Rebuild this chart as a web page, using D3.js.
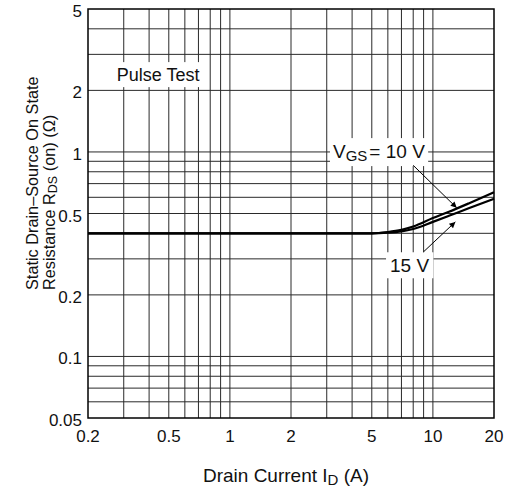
<!DOCTYPE html>
<html><head><meta charset="utf-8">
<script src="https://cdn.jsdelivr.net/npm/d3@7"></script>
<style>
html,body{margin:0;padding:0;background:#fff;}
svg text{font-family:"Liberation Sans",Arial,sans-serif;fill:#111;}
</style></head>
<body>
<svg id="chart" width="509" height="491"></svg>
<script>
// ---- data ----
const xTickLabels = [0.2, 0.5, 1, 2, 5, 10, 20];
const yTickLabels = [0.05, 0.1, 0.2, 0.5, 1, 2, 5];
const xGrid = [0.3,0.4,0.5,0.6,0.7,0.8,0.9,1,2,3,4,5,6,7,8,9,10];
const yGrid = [0.06,0.07,0.08,0.09,0.1,0.2,0.3,0.4,0.5,0.6,0.7,0.8,0.9,1,2,3,4];
const currentA = [0.2, 1, 5, 6, 7, 8, 10, 12, 15, 20];
const rds10V  = [0.4, 0.4, 0.4, 0.406, 0.416, 0.432, 0.475, 0.51, 0.56, 0.635];
const rds15V  = [0.4, 0.4, 0.4, 0.403, 0.409, 0.42, 0.455, 0.487, 0.53, 0.59];
// annotation anchors in data units [x, y]
const pulseLabel = {x: 0.277, y: 2.22};
const label10 = {x: 3.22, y: 0.933};
const label15 = {x: 6.15, y: 0.258};
const arrow10 = [[8.0, 0.86], [13.1, 0.533]];
const arrow15 = [[9.0, 0.325], [12.9, 0.455]];

const W = 509, H = 491;
const m = {left: 88, top: 9, right: 15, bottom: 73};
const svg = d3.select("#chart");
const x = d3.scaleLog().domain([0.2, 20]).range([m.left, W - m.right]);
const y = d3.scaleLog().domain([0.05, 5]).range([H - m.bottom, m.top]);

const g = svg.append("g");
// grid
g.selectAll(".vg").data(xGrid).join("line")
  .attr("x1", d => x(d)).attr("x2", d => x(d))
  .attr("y1", y(0.05)).attr("y2", y(5))
  .attr("stroke", "#2a2a2a").attr("stroke-width", 1);
g.selectAll(".hg").data(yGrid).join("line")
  .attr("y1", d => y(d)).attr("y2", d => y(d))
  .attr("x1", x(0.2)).attr("x2", x(20))
  .attr("stroke", "#2a2a2a").attr("stroke-width", 1);

// labels with white boxes
function boxedLabel(pos, size, padX, build) {
  const t = g.append("text").attr("x", x(pos.x)).attr("y", y(pos.y)).attr("font-size", size);
  build(t);
  const b = t.node().getBBox();
  g.insert("rect", () => t.node()).attr("x", b.x - padX).attr("y", b.y - 3)
    .attr("width", b.width + 2 * padX).attr("height", b.height + 5).attr("fill", "#fff");
}
boxedLabel(pulseLabel, 18, 4, t => t.text("Pulse Test"));

// curves
const line = d3.line().x(d => x(d[0])).y(d => y(d[1])).curve(d3.curveMonotoneX);
[rds10V, rds15V].forEach(s => {
  g.append("path").datum(currentA.map((c, i) => [c, s[i]]))
    .attr("d", line).attr("fill", "none").attr("stroke", "#000").attr("stroke-width", 2.2);
});

// border
g.append("rect").attr("x", x(0.2)).attr("y", y(5))
  .attr("width", x(20) - x(0.2)).attr("height", y(0.05) - y(5))
  .attr("fill", "none").attr("stroke", "#000").attr("stroke-width", 1.5);

// arrow marker
svg.append("defs").append("marker").attr("id", "ah")
  .attr("viewBox", "0 0 10 10").attr("refX", 10).attr("refY", 5)
  .attr("markerWidth", 9).attr("markerHeight", 6).attr("markerUnits", "userSpaceOnUse")
  .attr("orient", "auto")
  .append("path").attr("d", "M0,0 L10,5 L0,10 Z").attr("fill", "#000");

boxedLabel(label10, 19, 3, t => {
  t.append("tspan").text("V");
  t.append("tspan").attr("font-size", 15).attr("dy", 3).text("GS");
  t.append("tspan").attr("dy", -3).attr("dx", 2).text("= 10 V");
});
boxedLabel(label15, 19, 4, t => t.text("15 V"));

[arrow10, arrow15].forEach(a => {
  g.append("line").attr("x1", x(a[0][0])).attr("y1", y(a[0][1]))
    .attr("x2", x(a[1][0])).attr("y2", y(a[1][1]))
    .attr("stroke", "#000").attr("stroke-width", 1).attr("marker-end", "url(#ah)");
});

// tick labels
const fmt = d => String(d);
g.selectAll(".yl").data(yTickLabels).join("text")
  .attr("x", x(0.2) - 6).attr("y", d => y(d) + 8)
  .attr("text-anchor", "end").attr("font-size", 17).text(fmt);
g.selectAll(".xl").data(xTickLabels).join("text")
  .attr("x", d => x(d)).attr("y", y(0.05) + 24)
  .attr("text-anchor", "middle").attr("font-size", 17).text(fmt);

// axis titles
const yt = g.append("text").attr("transform", "translate(38,290) rotate(-90)")
  .attr("font-size", 16.3).attr("text-anchor", "start");
yt.text("Static Drain\u2013Source On State");
const yt2 = g.append("text").attr("transform", "translate(54.5,290) rotate(-90)")
  .attr("font-size", 16.3).attr("text-anchor", "start");
yt2.append("tspan").text("Resistance R");
yt2.append("tspan").attr("font-size", 12.5).attr("dy", 2).text("DS");
yt2.append("tspan").attr("dy", -2).text(" (on) (\u03A9)");

const xt = g.append("text").attr("x", 286).attr("y", 482)
  .attr("text-anchor", "middle").attr("font-size", 19);
xt.append("tspan").text("Drain Current I");
xt.append("tspan").attr("font-size", 15).attr("dy", 3).text("D");
xt.append("tspan").attr("dy", -3).text(" (A)");
</script>
</body></html>
